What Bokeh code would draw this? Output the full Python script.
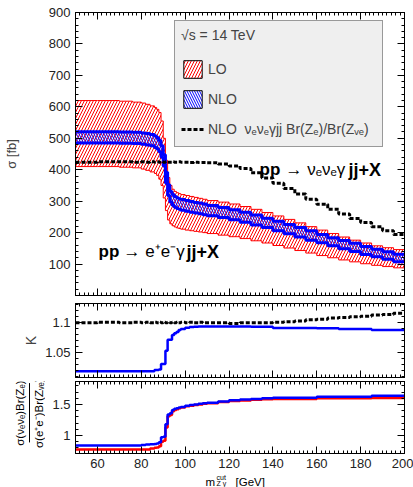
import math
from bokeh.plotting import figure
from bokeh.models import Range1d, LinearAxis, FixedTicker, Legend, LegendItem
from bokeh.layouts import column, row
from bokeh.embed import file_html
from bokeh.resources import INLINE
from bokeh.core.properties import value

# ---------------- data ----------------
edges = [50, 60, 70, 76, 80, 82, 84, 86, 87, 88, 89, 90, 91, 92, 93, 94, 95, 96, 97, 98,
         100, 102, 104, 106, 108, 110, 115, 120, 125, 130, 135, 140, 145, 150, 155, 160,
         165, 170, 175, 180, 185, 190, 195, 200]

lo_up = [620, 620, 618, 615, 612, 608, 603, 598, 592, 582, 555, 500, 430, 375, 350,
         338, 331, 327, 324, 321, 318, 315, 312, 309, 306, 302, 297, 291, 283, 274,
         264, 253, 242, 231, 219, 208, 197, 186, 176, 167, 158, 152, 146]
lo_dn = [410, 410, 408, 406, 402, 398, 393, 388, 382, 370, 350, 310, 270, 240, 228,
         222, 218, 215, 213, 211, 208, 206, 204, 202, 200, 197, 192, 187, 181, 174,
         167, 159, 151, 143, 135, 127, 120, 113, 107, 101, 96, 92, 88]
nlo_up = [521, 521, 520, 519, 517, 515, 512, 507, 502, 493, 476, 448, 392, 352, 331,
          321, 315, 311, 308, 305, 302, 299, 296, 294, 291, 286, 280, 273, 265, 256,
          246, 236, 226, 216, 206, 194, 184, 175, 166, 156, 147, 139, 131]
nlo_dn = [485, 485, 484, 483, 481, 479, 476, 471, 466, 457, 440, 412, 358, 318, 297,
          287, 281, 277, 274, 271, 268, 265, 262, 260, 257, 254, 248, 241, 233, 224,
          216, 206, 196, 186, 176, 168, 158, 149, 140, 130, 123, 115, 107]
nlo_nu = [424, 425, 425, 424, 425, 424, 425, 424, 425, 424, 425, 424, 425, 424, 424,
          425, 424, 424, 425, 424, 424, 423, 424, 423, 423, 422, 418, 412, 404, 390,
          374, 357, 340, 323, 306, 290, 274, 259, 245, 232, 219, 206, 194]

k_e = [1.019, 1.019, 1.019, 1.019, 1.019, 1.019, 1.019, 1.021, 1.021, 1.022, 1.031,
       1.031, 1.053, 1.071, 1.071, 1.079, 1.082, 1.084, 1.087, 1.089, 1.091, 1.092,
       1.0925, 1.093, 1.093, 1.093, 1.093, 1.093, 1.093, 1.0925, 1.0925, 1.0905,
       1.0905, 1.0905, 1.0905, 1.090, 1.090, 1.089, 1.089, 1.089, 1.087, 1.087, 1.087]
k_nu = [1.099, 1.100, 1.099, 1.100, 1.099, 1.100, 1.099, 1.100, 1.099, 1.100, 1.099,
        1.100, 1.099, 1.100, 1.099, 1.100, 1.099, 1.100, 1.099, 1.100, 1.099, 1.100,
        1.099, 1.100, 1.099, 1.099, 1.099, 1.098, 1.099, 1.099, 1.099, 1.100, 1.101,
        1.102, 1.104, 1.105, 1.107, 1.108, 1.109, 1.110, 1.112, 1.113, 1.115]

r_nlo = [0.84, 0.84, 0.84, 0.84, 0.845, 0.855, 0.86, 0.862, 0.87, 0.89, 0.97, 0.98,
         1.18, 1.34, 1.36, 1.41, 1.43, 1.44, 1.45, 1.46, 1.48, 1.49, 1.50, 1.51, 1.52,
         1.53, 1.55, 1.57, 1.58, 1.59, 1.60, 1.61, 1.61, 1.61, 1.61, 1.625, 1.625,
         1.625, 1.625, 1.625, 1.64, 1.64, 1.64]
r_lo = [0.775, 0.775, 0.775, 0.775, 0.775, 0.775, 0.79, 0.80, 0.805, 0.825, 0.90,
        0.915, 1.13, 1.31, 1.33, 1.39, 1.41, 1.425, 1.44, 1.45, 1.47, 1.48, 1.49, 1.50,
        1.51, 1.52, 1.54, 1.555, 1.565, 1.575, 1.585, 1.59, 1.59, 1.59, 1.59, 1.60,
        1.60, 1.60, 1.60, 1.60, 1.605, 1.605, 1.605]

x_ticks = [60, 80, 100, 120, 140, 160, 180, 200]
top_ticks = [100, 200, 300, 400, 500, 600, 700, 800, 900]
k_ticks = [1.05, 1.1]
r_ticks = [1.0, 1.5]

# ---------------- styling helpers ----------------
FONT = "Liberation Sans"
X = Range1d(50, 200)
x_minor = [50 + 2 * i for i in range(76)]
FRAME_L, FRAME_W = 75, 329
KPX = FRAME_W / 150.0  # pixels per GeV


def ext(v):
    return list(v) + [v[-1]]


def style_axis(ax, ticker, labels=True, overrides=None):
    ax.ticker = ticker
    ax.major_tick_in = 7
    ax.major_tick_out = 0
    ax.minor_tick_in = 3
    ax.minor_tick_out = 0
    ax.major_tick_line_color = "black"
    ax.minor_tick_line_color = "black"
    ax.axis_line_color = "black"
    if labels:
        ax.major_label_text_font = FONT
        ax.major_label_text_font_size = "13px"
        ax.major_label_text_color = "#222222"
        ax.major_label_standoff = 5
        if overrides:
            ax.major_label_overrides = overrides
    else:
        ax.major_label_text_font_size = "1px"
        ax.major_label_text_color = None
        ax.major_label_standoff = 0


def make_fig(w, h, yr, bl, bt, bb, yticker, yover=None, xlabels=False):
    p = figure(width=w, height=h, x_range=X, y_range=yr, output_backend="svg",
               toolbar_location=None, min_border_left=bl, min_border_right=9,
               min_border_top=bt, min_border_bottom=bb)
    p.xgrid.visible = False
    p.ygrid.visible = False
    p.outline_line_color = "black"
    p.outline_line_alpha = 1.0
    p.background_fill_color = "white"
    p.border_fill_color = "white"
    style_axis(p.xaxis[0], FixedTicker(ticks=x_ticks, minor_ticks=x_minor), labels=xlabels)
    style_axis(p.yaxis[0], yticker, labels=True, overrides=yover)
    ra = LinearAxis()
    style_axis(ra, yticker, labels=False)
    p.add_layout(ra, "right")
    ta = LinearAxis()
    style_axis(ta, FixedTicker(ticks=x_ticks, minor_ticks=x_minor), labels=False)
    p.add_layout(ta, "above")
    return p


def txt(p, x, y, s, size, bold=False, angle=0.0, align="left", baseline="alphabetic",
        font=FONT):
    p.text(x=[x], y=[y], text=[s], text_font=value(font), text_font_size=value(f"{size}px"),
           text_font_style="bold" if bold else "normal", angle=angle,
           text_align=align, text_baseline=baseline, text_color="black")


def bare_fig(w, h, xr, yr, bl=0, br=0):
    q = figure(width=w, height=h, x_range=xr, y_range=yr, output_backend="svg",
               toolbar_location=None, x_axis_type=None, y_axis_type=None, title=None,
               min_border_left=bl, min_border_right=br, min_border_top=0,
               min_border_bottom=0)
    q.outline_line_color = None
    q.xgrid.visible = False
    q.ygrid.visible = False
    q.background_fill_color = "white"
    q.border_fill_color = "white"
    return q


def px(cx):
    # canvas pixel -> data x of the shared axis (for text placement only)
    return 50 + (cx - FRAME_L) / KPX


def py1(cy):
    # canvas pixel -> data y of the top panel (frame 12..295)
    return (295 - cy) * 900.0 / 283.0


# ---------------- top panel ----------------
p1 = make_fig(413, 299, Range1d(0, 900), 75, 12, 4,
              FixedTicker(ticks=top_ticks, minor_ticks=[20 * i for i in range(46)]))
p1.yaxis[0].axis_label = "\u03c3 [fb]"
p1.yaxis[0].axis_label_text_font = FONT
p1.yaxis[0].axis_label_text_font_size = "13px"
p1.yaxis[0].axis_label_text_font_style = "normal"
p1.yaxis[0].axis_label_standoff = 27

xe = edges
p1.varea_step(x=xe, y1=ext(lo_dn), y2=ext(lo_up), step_mode="after", fill_color=None,
              fill_alpha=0, hatch_pattern="/", hatch_color="red", hatch_scale=6,
              hatch_weight=1)
p1.step(x=xe, y=ext(lo_up), mode="after", line_color="red", line_width=1)
p1.step(x=xe, y=ext(lo_dn), mode="after", line_color="red", line_width=1)

p1.varea_step(x=xe, y1=ext(nlo_dn), y2=ext(nlo_up), step_mode="after", fill_color=None,
              fill_alpha=0, hatch_pattern="\\", hatch_color="blue", hatch_scale=5,
              hatch_weight=1)
p1.step(x=xe, y=ext(nlo_up), mode="after", line_color="blue", line_width=3)
p1.step(x=xe, y=ext(nlo_dn), mode="after", line_color="blue", line_width=3)

black = p1.step(x=xe, y=ext(nlo_nu), mode="after", line_color="black", line_width=3,
                line_dash="4 2")

# legend swatches only (zero-size, outside the x range)
lo_dummy = p1.quad(left=[0], right=[0], top=[0], bottom=[0], fill_color="white",
                   hatch_pattern="/", hatch_color="red", hatch_scale=6,
                   line_color="black", line_width=1)
nlo_dummy = p1.quad(left=[0], right=[0], top=[0], bottom=[0], fill_color="white",
                    hatch_pattern="\\", hatch_color="blue", hatch_scale=5,
                    line_color="black", line_width=1)

leg = Legend(items=[LegendItem(label="LO", renderers=[lo_dummy]),
                    LegendItem(label="NLO", renderers=[nlo_dummy]),
                    LegendItem(label="NLO  \u03bd\u2091\u03bd\u2091\u03b3jj Br(Z\u2091)/Br(Z\u1d65\u2091)",
                               renderers=[black])],
             title="\u221as = 14 TeV", location=(99, 148), orientation="vertical",
             glyph_width=23, glyph_height=22, label_height=22, label_width=168, spacing=8,
             padding=6, margin=0, label_standoff=4, title_standoff=15,
             label_text_font=FONT, label_text_font_size="14px",
             title_text_font=FONT, title_text_font_size="14px",
             title_text_font_style="normal",
             background_fill_color="#efefef", background_fill_alpha=1.0,
             border_line_color="#444444", border_line_width=1)
p1.add_layout(leg)

txt(p1, px(259), py1(169), "pp", 17, bold=True)
txt(p1, px(285), py1(169), "\u2192 \u03bd\u2091\u03bd\u2091\u03b3", 17)
txt(p1, px(348), py1(169), "jj+X", 18, bold=True)
txt(p1, px(98), py1(251), "pp", 17, bold=True)
txt(p1, px(123), py1(251), "\u2192 e\u207ae\u207b\u03b3", 17)
txt(p1, px(186), py1(251), "jj+X", 18, bold=True)

# ---------------- K panel ----------------
p2 = make_fig(413, 80, Range1d(1.0087, 1.131), 75, 4, 2,
              FixedTicker(ticks=k_ticks, minor_ticks=[1.0 + 0.01 * i for i in range(15)]),
              yover={1.05: "1.05", 1.1: "1.1"})
p2.yaxis[0].axis_label = "K"
p2.yaxis[0].axis_label_text_font = FONT
p2.yaxis[0].axis_label_text_font_size = "14px"
p2.yaxis[0].axis_label_text_font_style = "normal"
p2.yaxis[0].axis_label_standoff = 3
p2.step(x=xe, y=ext(k_nu), mode="after", line_color="black", line_width=3, line_dash="4 2")
p2.step(x=xe, y=ext(k_e), mode="after", line_color="blue", line_width=2.5)

# ---------------- ratio panel ----------------
P3H = 91
p3 = make_fig(368, P3H, Range1d(0.709, 1.871), 30, 2, 16,
              FixedTicker(ticks=r_ticks, minor_ticks=[0.7 + 0.1 * i for i in range(13)]),
              yover={1.0: "1", 1.5: "1.5"}, xlabels=True)
p3.xaxis[0].major_label_standoff = 1
p3.step(x=xe, y=ext(r_lo), mode="after", line_color="red", line_width=2.5)
p3.step(x=xe, y=ext(r_nlo), mode="after", line_color="blue", line_width=2.5)

# y title of the ratio panel (a fraction), drawn in a narrow strip left of it
p3l = bare_fig(45, P3H, Range1d(0, 45), Range1d(0, P3H))
top3 = 379  # canvas y of the strip's top edge


def py3(cy):
    return P3H - (cy - top3)


txt(p3l, 19, py3(419), "\u03c3(\u03bd\u2091\u03bd\u2091)Br(Z\u2091)", 11.5, angle=math.pi / 2,
    align="center", baseline="middle")
txt(p3l, 38, py3(419), "\u03c3(e\u207ae\u207b)Br(Z\u1d65\u2091)", 11.5, angle=math.pi / 2,
    align="center", baseline="middle")
p3l.segment(x0=[29], y0=[py3(456)], x1=[29], y1=[py3(381)], line_color="black",
            line_width=1)

# x title, drawn in a thin strip under the ratio panel
P4H = 487 - 299 - 80 - P3H
p4 = bare_fig(413, P4H, X, Range1d(0, P4H), bl=75, br=9)


def py4(cy):
    return 487 - cy


txt(p4, px(205), py4(481.5), "m", 11.5)
txt(p4, px(216), py4(476.5), "cut", 7)
txt(p4, px(216), py4(483), "Z \u03b3", 7)
txt(p4, px(235), py4(481.5), "[GeV]", 11.5)

layout = column(p1, p2, row(p3l, p3, spacing=0), p4, spacing=0)
open("out.html", "w").write(file_html(layout, INLINE))
